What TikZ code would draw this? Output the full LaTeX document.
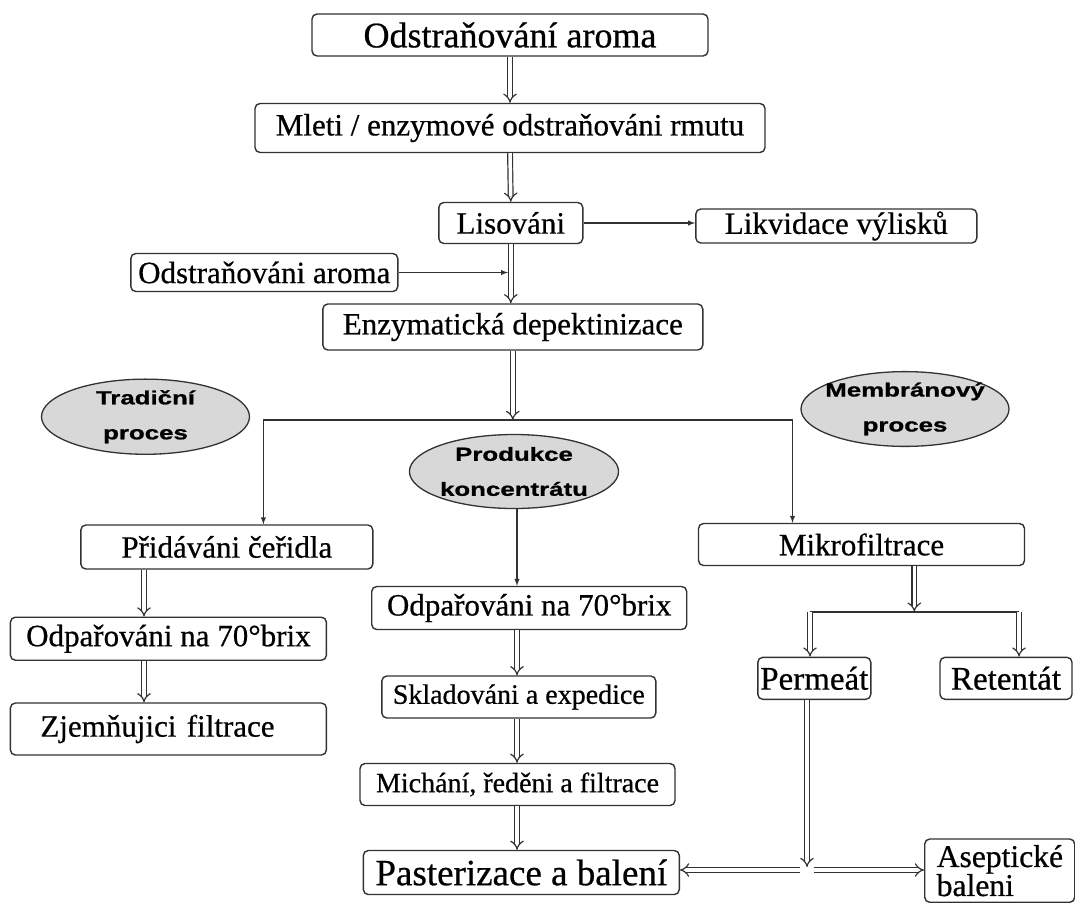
\documentclass[tikz,border=0pt]{standalone}
\usepackage{fontspec}
\setmainfont{Liberation Serif}[FakeBold=0.6]
\newfontfamily\ovalfont{Liberation Sans}[FakeStretch=1.36, FakeBold=1]
\usetikzlibrary{arrows.meta, shapes.geometric}
\definecolor{linegray}{RGB}{50,50,50}
\definecolor{ovalgray}{RGB}{216,216,216}
\newcommand{\txtsize}[1]{\fontsize{#1}{#1}\selectfont}
\tikzset{
    >=latex,
    stepbox/.style={draw=linegray, line width=1.4pt, rounded corners=5pt, fill=white,
        inner sep=0pt, align=center, font=\txtsize{31}},
    procoval/.style={ellipse, draw=linegray, fill=ovalgray, line width=1.3pt, inner sep=0pt,
        minimum width=208pt, minimum height=74pt, align=center,
        font=\ovalfont\bfseries\fontsize{19}{35}\selectfont},
    flow/.style={draw=linegray, line width=1.2pt, double=white, double distance=3.5pt, -{Implies[scale=1.5]}},
    feed/.style={draw=linegray, line width=1.4pt, ->},
    fork/.style={draw=linegray, line width=1.8pt},
}

\begin{document}
\begin{tikzpicture}[x=1pt, y=-1pt]
    \useasboundingbox (0,0) rectangle (1075,903);
    % main line
    \node[stepbox, font=\txtsize{36}, minimum width=396pt, minimum height=42pt] (aromaTop) at (510,35) {Odstraňování aroma};
    \node[stepbox, minimum width=510pt, minimum height=49pt] (mleti) at (510,128) {Mleti / enzymové odstraňováni rmutu};
    \node[stepbox, minimum width=144pt, minimum height=41pt] (lisovani) at (510.8,223) {Lisováni};
    \node[stepbox, minimum width=281pt, minimum height=34pt] (likvidace) at (836.3,226) {Likvidace výlisků};
    \node[stepbox, minimum width=267pt, minimum height=38pt] (aromaSide) at (264.3,272.5) {Odstraňováni aroma};
    \node[stepbox, minimum width=380pt, minimum height=46pt] (enzym) at (512.8,327) {Enzymatická depektinizace};
    % process labels
    \node[procoval] (tradicni) at (145.5,416.7) {Tradiční\\proces};
    \node[procoval] (produkce) at (514,471.5) {Produkce\\koncentrátu};
    \node[procoval, inner xsep=-7pt] (membran) at (905,409) {Membránový\\proces};
    % traditional
    \node[stepbox, minimum width=292pt, minimum height=44pt] (cerid) at (226.8,547) {Přidáváni čeřidla};
    \node[stepbox, minimum width=316pt, minimum height=43pt] (odparL) at (168.4,638.7) {Odpařováni na 70°brix};
    \node[stepbox, inner xsep=30pt, text width=256pt, align=left, minimum height=52pt] (zjemn) at (168.4,729) {Zjemňujici filtrace};
    % concentrate
    \node[stepbox, minimum width=315pt, minimum height=43pt] (odparM) at (529.2,608) {Odpařováni na 70°brix};
    \node[stepbox, font=\txtsize{28}, minimum width=274pt, minimum height=42pt] (sklad) at (518.8,697) {Skladováni a expedice};
    \node[stepbox, font=\txtsize{28}, minimum width=315pt, minimum height=42pt] (michani) at (517.5,784.5) {Michání, ředěni a filtrace};
    \node[stepbox, font=\txtsize{37}, minimum width=316pt, minimum height=44pt] (paster) at (521.3,872.5) {Pasterizace a balení};
    % membrane
    \node[stepbox, minimum width=326pt, minimum height=42pt] (mikro) at (861.5,544.5) {Mikrofiltrace};
    \node[stepbox, font=\txtsize{33}, minimum width=113pt, minimum height=42pt] (permeat) at (814.3,678.3) {Permeát};
    \node[stepbox, font=\txtsize{33}, minimum width=132pt, minimum height=42pt] (retentat) at (1006,678.3) {Retentát};
    \node[stepbox, anchor=north west, align=left, text width=126pt, inner xsep=12pt, inner ysep=6pt,
        font=\fontsize{31.6}{29}\selectfont] (asept) at (924,838.3) {Aseptické\\baleni};

    \coordinate (midcol) at (517,0);
    \coordinate (leftcol) at (144,0);
    \coordinate (sidejoin) at (508,272.5);
    \coordinate (split) at (512.8,420);
    \coordinate (splitL) at (263.4,420);
    \coordinate (splitR) at (792.5,420);
    \coordinate (mfork) at (914.3,611.7);
    \coordinate (mforkL) at (810,611.7);
    \coordinate (mforkR) at (1019,611.7);
    \coordinate (pjoin) at (807,867);
    \coordinate (pjoinL) at (800,870);
    \coordinate (pjoinR) at (814,870);

    \draw[flow] (aromaTop.south) -- (mleti.north);
    \draw[flow] (mleti.south) -- (lisovani.north);
    \draw[flow] (lisovani.south) -- (lisovani.south |- enzym.north);
    \draw[feed] (lisovani.east) -- (lisovani.east -| likvidace.west);
    \draw[feed] (aromaSide.east) -- (sidejoin);
    \draw[flow] (enzym.south) -- (split);
    \draw[fork] (splitL) -- (splitR);
    \draw[feed] (splitL) -- (splitL |- cerid.north);
    \draw[feed] (splitR) -- (splitR |- mikro.north);
    \draw[feed] (produkce.south -| midcol) -- (odparM.north -| midcol);
    \foreach \a/\b in {cerid/odparL, odparL/zjemn}
        \draw[flow] (\a.south -| leftcol) -- (\b.north -| leftcol);
    \foreach \a/\b in {odparM/sklad, sklad/michani, michani/paster}
        \draw[flow] (\a.south -| midcol) -- (\b.north -| midcol);
    \draw[flow] (mikro.south -| mfork) -- (mfork);
    \draw[fork] (mforkL) -- (mforkR);
    \draw[flow] (mforkL) -- (mforkL |- permeat.north);
    \draw[flow] (mforkR) -- (mforkR |- retentat.north);
    \draw[flow] (permeat.south -| pjoin) -- (pjoin);
    \draw[flow] (pjoinL) -- (pjoinL -| paster.east);
    \draw[flow] (pjoinR) -- (pjoinR -| asept.west);
\end{tikzpicture}
\end{document}
